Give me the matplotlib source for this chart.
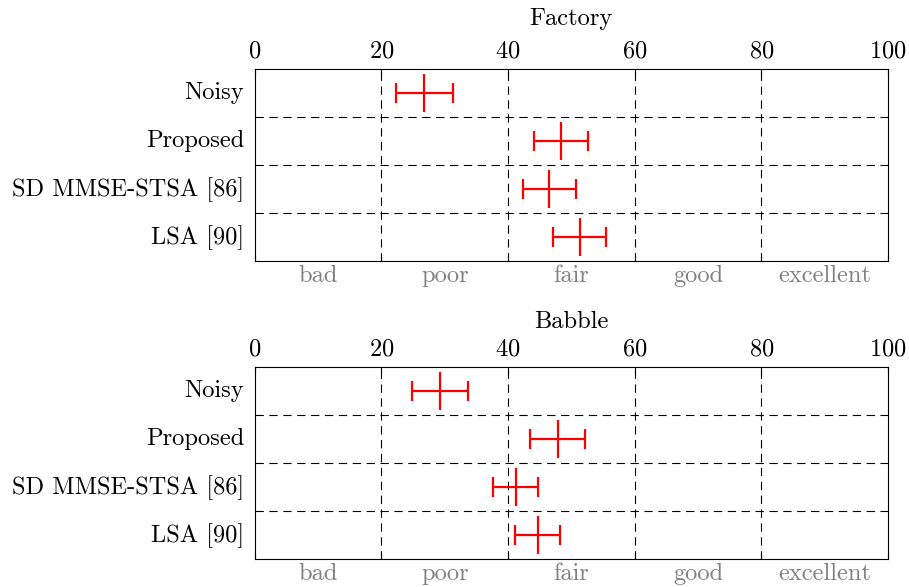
import numpy as np
import matplotlib
matplotlib.use("Agg")
import matplotlib.pyplot as plt
from matplotlib.transforms import ScaledTranslation

plt.rcParams["font.family"] = "serif"
plt.rcParams["font.serif"] = ["cmr10", "DejaVu Serif"]
plt.rcParams["axes.formatter.use_mathtext"] = True

methods = ["Noisy", "Proposed", "SD MMSE-STSA [86]", "LSA [90]"]
ratings = ["bad", "poor", "fair", "good", "excellent"]

# mean score and confidence interval bounds per method
factory_mean = [26.8, 48.3, 46.5, 51.3]
factory_low = [22.3, 44.1, 42.3, 47.1]
factory_high = [31.3, 52.6, 50.7, 55.5]

babble_mean = [29.3, 47.9, 41.2, 44.7]
babble_low = [24.8, 43.5, 37.7, 41.1]
babble_high = [33.7, 52.2, 44.8, 48.2]

FS = 17.6
DASH = (0, (7.5, 5))


def draw_panel(ax, title, title_y, mean, low, high):
    y = np.arange(len(methods))
    mean = np.array(mean)
    err = [mean - np.array(low), np.array(high) - mean]
    ax.errorbar(mean, y, xerr=err, fmt="none", ecolor="red", elinewidth=1.6,
                capsize=7.2, capthick=1.6, zorder=3)
    ax.plot(mean, y, ls="none", marker="|", color="red", markersize=27,
            markeredgewidth=1.6, zorder=3)

    ax.set_xlim(0, 100)
    ax.set_ylim(len(methods) - 0.5, -0.5)

    for xv in [20, 40, 60, 80]:
        ax.axvline(xv, color="black", ls=DASH, lw=0.8, zorder=1)
    for yv in np.arange(0.5, len(methods) - 0.5):
        ax.axhline(yv, color="black", ls=DASH, lw=0.8, zorder=1)

    ax.set_xticks(np.arange(0, 101, 20))
    ax.set_xticks(np.arange(10, 100, 20), minor=True)
    ax.set_xticklabels(ratings, minor=True)
    ax.tick_params(which="major", direction="in", top=True, bottom=True,
                   labeltop=True, labelbottom=False, length=4, width=0.8,
                   labelsize=FS, pad=4.5)
    ax.tick_params(which="minor", bottom=True, top=False, length=0,
                   labelbottom=True, labelcolor="gray", labelsize=FS, pad=3.0)

    ax.set_yticks(y)
    ax.set_yticklabels(methods)
    ax.tick_params(axis="y", length=0, labelsize=FS, pad=7.5)
    # nudge the method names up a little so they sit centred in each row
    shift = ScaledTranslation(0, 2 / 72, ax.figure.dpi_scale_trans)
    for lbl in ax.get_yticklabels():
        lbl.set_transform(lbl.get_transform() + shift)

    for s in ax.spines.values():
        s.set_linewidth(0.8)
    ax.text(0.5, title_y, title, transform=ax.transAxes, ha="center",
            va="center", fontsize=FS)


fig = plt.figure(figsize=(9.09, 5.87), dpi=100)
ax1 = fig.add_axes([0.2802, 0.5554, 0.6967, 0.3271])
ax2 = fig.add_axes([0.2802, 0.0477, 0.6967, 0.3271])

draw_panel(ax1, "Factory", 1.262, factory_mean, factory_low, factory_high)
draw_panel(ax2, "Babble", 1.236, babble_mean, babble_low, babble_high)

fig.savefig("out.png", dpi=100)
